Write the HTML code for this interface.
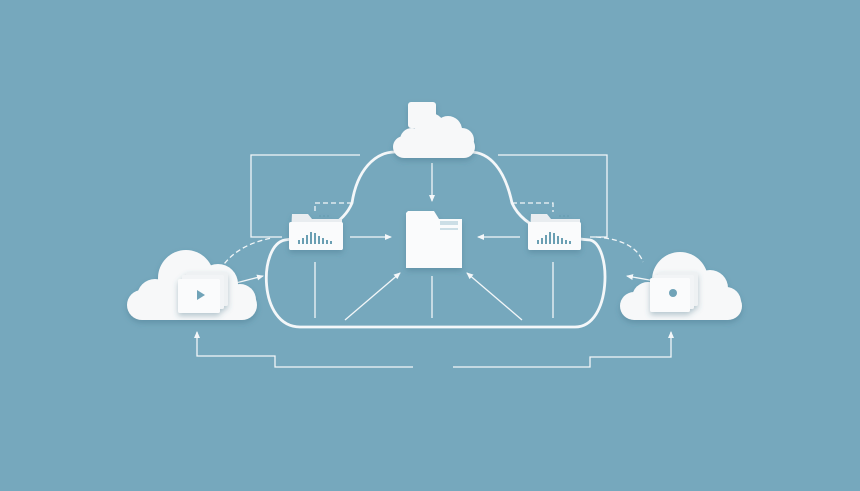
<!DOCTYPE html>
<html><head><style>
html,body{margin:0;padding:0;background:#76a8bd;}
svg{display:block;}
</style></head><body>
<svg width="860" height="491" viewBox="0 0 860 491" xmlns="http://www.w3.org/2000/svg">
<defs>
<marker id="a" markerWidth="8" markerHeight="8" refX="6" refY="4" orient="auto" markerUnits="userSpaceOnUse"><path d="M0,1 L7,4 L0,7 Z" fill="#f4f7f9"/></marker>
<filter id="sh" x="-20%" y="-20%" width="140%" height="150%"><feDropShadow dx="0" dy="3" stdDeviation="3" flood-color="#3d6c80" flood-opacity="0.35"/></filter>
</defs>
<rect width="860" height="491" fill="#76a8bd"/>
<g fill="none" stroke="#f2f6f8" stroke-width="1.3">
<polyline points="360,155 251,155 251,237 282,237"/>
<polyline points="498,155 607,155 607,237 590,237"/>
<polyline points="413,367 275,367 275,356 197,356 197,332" marker-end="url(#a)"/>
<polyline points="453,367 590,367 590,357 671,357 671,332" marker-end="url(#a)"/>
<line x1="315" y1="262" x2="315" y2="318"/>
<line x1="432" y1="276" x2="432" y2="318"/>
<line x1="553" y1="262" x2="553" y2="318"/>
<line x1="345" y1="320" x2="400" y2="273" marker-end="url(#a)"/>
<line x1="522" y1="320" x2="467" y2="273" marker-end="url(#a)"/>
<line x1="350" y1="237" x2="391" y2="237" marker-end="url(#a)"/>
<line x1="520" y1="237" x2="478" y2="237" marker-end="url(#a)"/>
<line x1="432" y1="163" x2="432" y2="201" marker-end="url(#a)"/>
<line x1="232" y1="284" x2="263" y2="276" marker-end="url(#a)"/>
<line x1="655" y1="281" x2="627" y2="276" marker-end="url(#a)"/>
<path d="M352,203 L315,203 L315,212" stroke-dasharray="5,3"/>
<path d="M512,203 L553,203 L553,212" stroke-dasharray="5,3"/>
<path d="M220,270 Q235,245 272,238" stroke-dasharray="5,3"/>
<path d="M596,237 Q635,240 643,262" stroke-dasharray="5,3"/>
</g>
<path d="M300,327 L575,327 C612,327 612,245 590,240 C565,238 525,232 512,203 C505,170 490,152 470,152 M395,152 C375,152 357,170 352,203 C340,232 300,238 285,240 C258,245 258,327 300,327" fill="none" stroke="#f4f7f9" stroke-width="2.8"/>
<g filter="url(#sh)" fill="#f7f8f9">
<rect x="408" y="102" width="28" height="26" rx="3"/>
<circle cx="448" cy="130" r="14"/>
<circle cx="430" cy="128" r="15"/>
<circle cx="412" cy="140" r="12"/>
<circle cx="462" cy="140" r="12"/>
<rect x="393" y="136" width="82" height="22" rx="11"/>
</g>
<g filter="url(#sh)" fill="#f7f8f9">
<circle cx="186" cy="278" r="28"/>
<circle cx="218" cy="284" r="20"/>
<circle cx="155" cy="297" r="18"/>
<circle cx="240" cy="300" r="16"/>
<rect x="127" y="290" width="130" height="30" rx="15"/>
</g>
<g filter="url(#sh)" fill="#f7f8f9">
<circle cx="680" cy="280" r="28"/>
<circle cx="710" cy="288" r="18"/>
<circle cx="648" cy="298" r="16"/>
<circle cx="726" cy="302" r="15"/>
<rect x="620" y="292" width="122" height="28" rx="14"/>
</g>
<g filter="url(#sh)">
<rect x="186" y="272" width="42" height="34" rx="2" fill="#eef1f3"/>
<rect x="182" y="275" width="42" height="34" rx="2" fill="#f2f4f6"/>
<rect x="178" y="279" width="42" height="34" rx="2" fill="#fafbfc"/>
<path d="M197,290 L205,295 L197,300 Z" fill="#6fa3b8"/>
<rect x="658" y="272" width="40" height="34" rx="2" fill="#eef1f3"/>
<rect x="654" y="275" width="40" height="34" rx="2" fill="#f2f4f6"/>
<rect x="650" y="278" width="40" height="34" rx="2" fill="#fafbfc"/>
<circle cx="673" cy="293" r="4" fill="#6fa3b8"/>
</g>
<g filter="url(#sh)">
<path d="M292,214 L308,214 L312,219 L342,219 L342,250 L290,250 Z" fill="#e9edf0"/>
<rect x="289" y="222" width="54" height="28" rx="2" fill="#fafbfc"/>
<g fill="#6a9fb3"><circle cx="320" cy="216" r="1"/><circle cx="324" cy="216" r="1"/><circle cx="328" cy="216" r="1"/>
<rect x="298" y="240" width="2" height="4"/><rect x="302" y="238" width="2" height="6"/><rect x="306" y="235" width="2" height="9"/><rect x="310" y="232" width="2" height="12"/><rect x="314" y="233" width="2" height="11"/><rect x="318" y="236" width="2" height="8"/><rect x="322" y="238" width="2" height="6"/><rect x="326" y="240" width="2" height="4"/><rect x="330" y="241" width="2" height="3"/></g>
</g>
<g filter="url(#sh)">
<path d="M531,214 L547,214 L551,219 L580,219 L580,250 L529,250 Z" fill="#e9edf0"/>
<rect x="528" y="222" width="53" height="28" rx="2" fill="#fafbfc"/>
<g fill="#6a9fb3"><circle cx="560" cy="216" r="1"/><circle cx="564" cy="216" r="1"/><circle cx="568" cy="216" r="1"/>
<rect x="537" y="240" width="2" height="4"/><rect x="541" y="238" width="2" height="6"/><rect x="545" y="235" width="2" height="9"/><rect x="549" y="232" width="2" height="12"/><rect x="553" y="233" width="2" height="11"/><rect x="557" y="236" width="2" height="8"/><rect x="561" y="238" width="2" height="6"/><rect x="565" y="240" width="2" height="4"/><rect x="569" y="241" width="2" height="3"/></g>
</g>
<g filter="url(#sh)">
<path d="M408,211 L434,211 L439,219 L462,219 L462,268 L406,268 L406,213 Z" fill="#fafbfc"/>
<rect x="440" y="221" width="18" height="4" fill="#76a8bd" opacity="0.35"/>
<rect x="440" y="228" width="18" height="2" fill="#76a8bd" opacity="0.35"/>
</g>
</svg>
</body></html>
